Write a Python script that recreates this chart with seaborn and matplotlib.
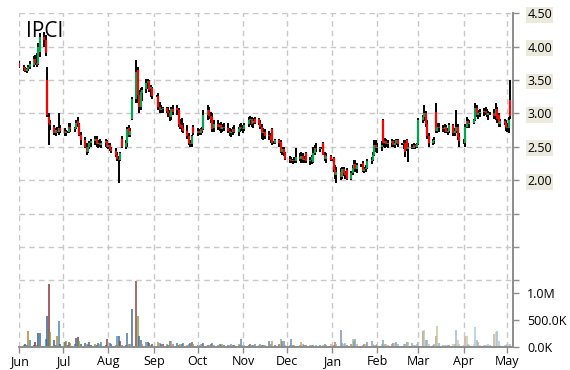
import numpy as np
import pandas as pd
import matplotlib
matplotlib.use("Agg")
import matplotlib.pyplot as plt
import matplotlib.dates as mdates
import seaborn as sns
from matplotlib.colors import to_rgb

TICKER = "IPCI"
START, END = "2018-06-01", "2019-05-03"

opens = [3.76,
    3.70,3.68,3.64,3.66,3.70, 3.72,3.82,3.76,3.74,3.92, 4.15,4.10,3.50,2.95,2.85, 2.80,2.70,2.74,2.72,2.78,
    2.74,2.70,2.72,2.72,2.80, 2.76,2.78,2.88,2.84,2.68, 2.60,2.50,2.42,2.50,2.55, 2.58,2.62,2.54,2.56,2.52,
    2.55,2.58,2.50,2.52,2.46, 2.44,2.38,2.32,2.30,2.62, 2.50,2.56,2.78,2.68,2.92, 3.22,3.65,3.28,3.10,3.30,
    3.36,3.45,3.48,3.36,3.38, 3.26,3.26,3.10,3.05,3.06, 3.08,3.04,3.00,2.95,3.06, 3.08,3.05,2.84,2.82,2.78,
    2.74,2.66,2.56,2.54,2.80, 2.70,2.74,2.70,2.76,2.76, 2.98,3.05,2.96,2.95,2.78, 2.84,2.80,2.82,2.76,2.80,
    2.78,2.74,2.70,2.72,2.76, 2.72,2.76,2.80,2.78,2.76, 2.84,2.90,2.92,2.86,2.92, 2.92,2.86,2.80,2.70,2.72,
    2.68,2.66,2.76,2.56,2.56, 2.60,2.57,2.42,2.46,2.40, 2.32,2.30,2.28,2.30,2.28, 2.34,2.32,2.36,2.30,2.40,
    2.28,2.30,2.27,2.40,2.48, 2.46,2.48,2.55,2.38,2.32, 2.36,2.30,2.33,2.15,2.08, 2.12,2.05,2.16,2.10,2.15,
    2.02,2.10,2.18,2.24,2.16, 2.22,2.26,2.14,2.16,2.18, 2.28,2.30,2.38,2.52,2.48, 2.50,2.90,2.55,2.58,2.54,
    2.56,2.58,2.52,2.56,2.60, 2.54,2.54,2.56,2.60,2.46, 2.50,2.48,2.52,2.50,2.54, 2.90,2.94,3.00,2.84,2.66,
    2.56,2.58,3.02,2.74,2.80, 2.78,2.76,2.80,2.72,2.74, 2.82,2.70,2.74,2.80,2.64, 2.58,2.56,2.80,2.88,2.84,
    2.86,2.90,3.08,2.98,3.00, 3.02,3.04,3.00,2.98,3.00, 3.00,2.96,3.06,2.98,2.84, 2.88,2.86,2.80,2.78,3.20]

highs = [3.78,
    3.72,3.70,3.68,3.72,3.78, 3.86,3.88,3.90,4.05,4.20, 4.22,4.18,3.70,3.00,2.90, 2.83,2.78,2.80,3.00,2.82,
    2.78,2.75,2.74,2.85,2.86, 2.80,2.90,2.95,2.86,2.72, 2.64,2.55,2.52,2.58,2.62, 2.66,2.66,2.60,2.62,2.58,
    2.62,2.60,2.56,2.55,2.50, 2.48,2.42,2.36,2.42,2.66, 2.60,2.80,2.82,2.78,3.25, 3.80,3.70,3.35,3.38,3.40,
    3.52,3.52,3.50,3.42,3.40, 3.28,3.30,3.17,3.12,3.10, 3.10,3.10,3.05,3.10,3.13, 3.12,3.08,2.92,2.93,2.86,
    2.83,2.70,2.60,2.68,2.82, 2.78,2.76,2.78,2.80,3.05, 3.13,3.10,3.02,3.00,2.90, 2.90,2.85,2.87,2.84,2.86,
    2.85,2.78,2.76,2.80,2.82, 2.80,2.84,2.85,2.82,2.86, 2.95,2.96,2.94,2.93,2.94, 2.93,2.90,2.84,2.78,2.76,
    2.74,2.70,2.78,2.58,2.62, 2.62,2.60,2.50,2.50,2.42, 2.36,2.35,2.32,2.34,2.48, 2.40,2.42,2.40,2.36,2.42,
    2.34,2.38,2.50,2.52,2.55, 2.50,2.50,2.57,2.42,2.40, 2.38,2.32,2.34,2.22,2.20, 2.18,2.20,2.20,2.14,2.18,
    2.14,2.22,2.30,2.30,2.26, 2.24,2.28,2.20,2.22,2.32, 2.34,2.42,2.60,2.60,2.56, 2.58,2.92,2.63,2.62,2.60,
    2.62,2.60,2.60,2.62,2.62, 2.56,2.60,2.60,2.62,2.55, 2.54,2.55,2.54,2.56,2.93, 2.98,3.13,3.04,2.90,2.70,
    2.62,2.64,3.15,2.85,2.86, 2.82,2.84,2.82,2.78,2.85, 2.84,2.78,3.05,2.84,2.70, 2.62,2.84,2.94,2.92,2.90,
    2.92,3.15,3.12,3.05,3.06, 3.08,3.10,3.06,3.04,3.02, 3.06,3.15,3.10,3.00,2.92, 2.92,2.90,2.86,2.95,3.50]

lows = [3.68,
    3.64,3.62,3.60,3.63,3.66, 3.70,3.72,3.70,3.72,3.84, 4.00,3.86,2.95,2.53,2.75, 2.68,2.66,2.70,2.68,2.70,
    2.66,2.66,2.70,2.70,2.72, 2.72,2.76,2.80,2.66,2.53, 2.48,2.38,2.40,2.46,2.50, 2.52,2.50,2.48,2.50,2.48,
    2.50,2.48,2.46,2.44,2.40, 2.34,2.28,1.95,2.28,2.48, 2.46,2.50,2.64,2.64,2.90, 3.15,3.15,3.00,3.05,3.18,
    3.30,3.36,3.32,3.25,3.22, 3.24,3.05,3.00,3.00,3.00, 3.00,2.95,2.88,2.90,2.98, 2.98,2.80,2.76,2.72,2.70,
    2.62,2.52,2.50,2.50,2.68, 2.66,2.68,2.68,2.70,2.75, 2.90,2.92,2.86,2.72,2.72, 2.75,2.74,2.70,2.72,2.74,
    2.70,2.66,2.65,2.68,2.70, 2.66,2.72,2.74,2.70,2.74, 2.80,2.82,2.80,2.78,2.84, 2.82,2.76,2.62,2.60,2.62,
    2.60,2.55,2.52,2.54,2.54, 2.50,2.40,2.38,2.36,2.30, 2.26,2.25,2.24,2.25,2.25, 2.28,2.26,2.25,2.26,2.26,
    2.22,2.24,2.26,2.38,2.42, 2.42,2.46,2.37,2.28,2.25, 2.28,2.28,2.12,2.02,1.95, 2.00,2.02,2.06,2.02,2.00,
    2.00,2.08,2.14,2.12,2.10, 2.20,2.12,2.10,2.12,2.16, 2.24,2.28,2.36,2.42,2.40, 2.44,2.50,2.48,2.50,2.48,
    2.50,2.50,2.48,2.52,2.50, 2.52,2.46,2.35,2.44,2.27, 2.46,2.46,2.47,2.48,2.53, 2.85,2.88,2.80,2.62,2.50,
    2.52,2.54,2.70,2.70,2.72, 2.72,2.70,2.70,2.68,2.70, 2.66,2.66,2.70,2.60,2.50, 2.54,2.50,2.78,2.80,2.78,
    2.84,2.88,2.94,2.92,2.94, 2.96,2.98,2.94,2.90,2.98, 2.92,2.90,2.86,2.80,2.80, 2.82,2.74,2.72,2.70,2.92]

closes = [3.70,
    3.68,3.64,3.66,3.70,3.74, 3.82,3.76,3.72,4.00,4.15, 4.10,3.90,2.98,2.85,2.82, 2.70,2.75,2.72,2.78,2.74,
    2.70,2.72,2.72,2.80,2.76, 2.78,2.86,2.84,2.68,2.60, 2.50,2.42,2.50,2.55,2.58, 2.62,2.54,2.56,2.52,2.55,
    2.58,2.50,2.52,2.46,2.44, 2.38,2.32,2.30,2.40,2.50, 2.56,2.76,2.68,2.74,3.22, 3.62,3.28,3.10,3.32,3.35,
    3.45,3.48,3.35,3.40,3.26, 3.26,3.10,3.05,3.06,3.08, 3.04,3.00,2.95,3.06,3.02, 3.05,2.84,2.80,2.78,2.74,
    2.66,2.56,2.54,2.66,2.70, 2.74,2.70,2.76,2.73,2.98, 3.05,2.96,2.90,2.76,2.84, 2.80,2.82,2.76,2.80,2.78,
    2.74,2.70,2.72,2.76,2.72, 2.76,2.80,2.78,2.76,2.82, 2.90,2.92,2.84,2.88,2.86, 2.86,2.80,2.70,2.72,2.66,
    2.66,2.60,2.56,2.56,2.60, 2.55,2.42,2.46,2.40,2.32, 2.30,2.28,2.30,2.28,2.34, 2.32,2.36,2.30,2.32,2.28,
    2.30,2.34,2.40,2.48,2.46, 2.48,2.48,2.38,2.32,2.36, 2.30,2.30,2.15,2.08,2.12, 2.05,2.16,2.10,2.08,2.02,
    2.10,2.18,2.24,2.16,2.22, 2.22,2.14,2.16,2.18,2.28, 2.30,2.38,2.52,2.48,2.50, 2.52,2.55,2.58,2.54,2.56,
    2.58,2.52,2.56,2.60,2.54, 2.54,2.56,2.42,2.46,2.50, 2.48,2.52,2.50,2.54,2.90, 2.94,3.00,2.84,2.66,2.56,
    2.58,2.60,2.74,2.80,2.78, 2.76,2.80,2.72,2.74,2.82, 2.70,2.74,2.80,2.64,2.58, 2.58,2.80,2.88,2.84,2.86,
    2.90,3.08,2.98,3.00,3.02, 3.04,3.00,2.98,3.00,3.00, 2.96,3.06,2.92,2.84,2.88, 2.86,2.80,2.78,2.90,2.96]

volume_k = [70,
    30,50,40,290,130, 30,90,40,265,265, 20,150,585,1170,280, 130,40,200,490,60,
    100,120,40,90,80, 60,170,190,110,60, 80,60,40,100,40, 60,30,80,50,90,
    40,150,40,70,50, 30,200,200,120,30, 40,265,50,60,700, 1230,570,200,130,60,
    90,100,80,40,60, 20,90,80,60,50, 50,40,110,120,60, 70,40,60,60,80,
    40,50,80,90,50, 40,30,60,50,70, 30,40,50,70,30, 40,60,30,50,40,
    30,40,50,40,30, 60,40,150,40,30, 30,50,40,30,60, 40,50,30,40,40,
    120,60,120,20,40, 60,150,120,110,40, 40,150,30,40,20, 30,100,60,40,30,
    40,30,40,20,30, 40,20,30,60,40, 60,20,40,90,60, 320,80,60,70,40,
    60,150,120,140,60, 20,40,60,50,90, 120,60,40,30,60, 50,130,60,50,40,
    60,80,70,100,60, 20,50,60,90,100, 80,40,30,60,100, 290,320,130,130,60,
    40,60,200,385,80, 30,40,40,30,30, 60,50,320,130,60, 40,200,200,60,40,
    60,370,130,100,40, 40,30,40,50,30, 240,280,300,120,40, 40,30,60,50,60]

month_starts = ["2018-06-01", "2018-07-01", "2018-08-01", "2018-09-01", "2018-10-01", "2018-11-01",
                "2018-12-01", "2019-01-01", "2019-02-01", "2019-03-01", "2019-04-01", "2019-05-01"]
month_labels = ["Jun", "Jul", "Aug", "Sep", "Oct", "Nov", "Dec", "Jan", "Feb", "Mar", "Apr", "May"]
price_ticks = [0.5, 1.0, 1.5, 2.0, 2.5, 3.0, 3.5, 4.0, 4.5]
price_labels = ["", "", "", "2.00", "2.50", "3.00", "3.50", "4.00", "4.50"]
vol_ticks = [0, 500000, 1000000]
vol_labels = ["0.0K", "500.0K", "1.0M"]

# ---------------------------------------------------------------
sns.set_theme(style="white")
plt.rcParams['font.family'] = ['Open Sans', 'DejaVu Sans']

dates = pd.bdate_range(START, END)
assert len(dates) == len(closes) == len(opens) == len(highs) == len(lows) == len(volume_k)
x = mdates.date2num(dates.to_pydatetime())
o = np.array(opens); h = np.array(highs); l = np.array(lows); c = np.array(closes)
vol = np.array(volume_k) * 1000.0

W, H = 570, 370
fig = plt.figure(figsize=(W / 100, H / 100), dpi=100)
L, R, T, B = 19.3, 513.3, 13.3, 347.0
ax = fig.add_axes([L / W, (H - B) / H, (R - L) / W, (B - T) / H])
axv = ax.twinx()

grid_kw = dict(color="#C8C8C8", lw=1.0, ls=(0, (4, 3)))

# volume bars (drawn underneath the price axes), colours cycle and fade over time
base = ["#8B2E2E", "#6E9A32", "#2F5D8C", "#3D6A99", "#C27A2C", "#3A8DB0", "#2E5E90"]
n = len(vol)
vcols = []
for i in range(n):
    rgb = np.array(to_rgb(base[i % len(base)]))
    t = 0.62 * (i / (n - 1)) ** 1.3
    vcols.append(tuple(rgb * (1 - t) + t))
axv.vlines(x, 0, vol, colors=vcols, lw=1.1, zorder=2)
axv.set_ylim(0, 6.21e6)
axv.set_yticks(vol_ticks)
axv.set_yticklabels(vol_labels)
for s in axv.spines.values():
    s.set_visible(False)
axv.grid(False)

# price candles
ax.vlines(x, l, h, colors="black", lw=1.4, zorder=3)
up = c >= o
body_cols = np.where(up, "#00A651", "#FF0000")
ax.vlines(x, np.minimum(o, c), np.maximum(o, c), colors=body_cols, lw=1.6, zorder=4)

ax.set_ylim(-0.5, 4.5)
ax.set_yticks(price_ticks)
ax.set_yticklabels(price_labels)
ax.grid(True, axis="both", **grid_kw)
ax.set_axisbelow(True)

ax.set_xticks(mdates.date2num(pd.to_datetime(month_starts).to_pydatetime()))
ax.set_xticklabels(month_labels)
ax.set_xlim(mdates.date2num(pd.Timestamp("2018-06-01")), mdates.date2num(pd.Timestamp("2019-05-05")))

for s in ["left", "top"]:
    ax.spines[s].set_visible(False)
for s in ["right", "bottom"]:
    ax.spines[s].set_color("#8C8C8C")
    ax.spines[s].set_linewidth(1.4)

tick_kw = dict(colors="#8C8C8C", labelcolor="black", labelsize=9, length=4, width=1)
ax.tick_params(axis="y", which="both", right=True, left=False, labelright=True, labelleft=False,
               pad=6, **tick_kw)
ax.tick_params(axis="x", bottom=True, pad=2, **tick_kw)
axv.tick_params(axis="y", right=True, left=False, labelright=True, labelleft=False, pad=6, **tick_kw)

# beige boxes behind the price labels (right-hand labels are label2)
for tick in ax.yaxis.get_major_ticks():
    if tick.label2.get_text():
        tick.label2.set_bbox(dict(facecolor="#ECEADF", edgecolor="none", pad=1.0))

# price axes on top of the volume axes, transparent background
axv.set_zorder(1)
ax.set_zorder(2)
ax.patch.set_visible(False)
axv.patch.set_visible(True)
axv.patch.set_facecolor("white")

fig.text(26.0 / W, 1 - 21.0 / H, TICKER, fontsize=15, color="black", va="top", ha="left")

fig.savefig("out.png", dpi=100)
